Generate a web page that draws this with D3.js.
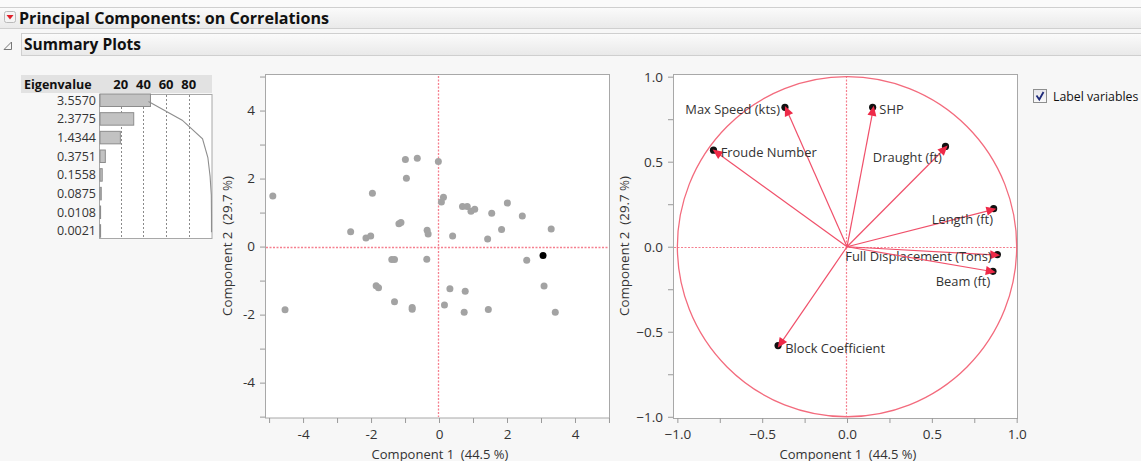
<!DOCTYPE html>
<html><head><meta charset="utf-8">
<script src="https://cdn.jsdelivr.net/npm/d3@7"></script>
<style>
body{margin:0;background:#f7f7f7;}
svg{display:block;font-family:"Open Sans","Noto Sans",sans-serif;}
</style>
</head><body>
<svg id="c" width="1141" height="461"></svg>
<script>
// ---------- DATA ----------
const eigenvalues = [3.5570, 2.3775, 1.4344, 0.3751, 0.1558, 0.0875, 0.0108, 0.0021];
const percentTicks = [20, 40, 60, 80];

const scoreX = [-4.89,-2.60,-2.15,-2.01,-1.96,-1.39,-1.31,-1.18,-1.12,-0.99,-0.96,-0.64,-0.02,0.13,0.07,0.69,0.83,0.94,1.05,1.55,2.01,2.45,1.84,0.40,-0.35,-0.32,1.43,3.30,-0.36,2.58,3.06,-1.85,-1.78,-1.31,-0.79,-0.79,-4.53,0.32,0.77,3.09,0.16,0.74,1.45,3.42];
const scoreY = [1.49,0.44,0.25,0.31,1.57,-0.38,-0.38,0.67,0.71,2.56,2.01,2.60,2.50,1.45,1.31,1.18,1.18,1.04,1.10,0.98,1.28,0.90,0.50,0.31,0.48,0.37,0.22,0.52,-0.37,-0.40,-0.26,-1.15,-1.21,-1.62,-1.79,-1.84,-1.86,-1.24,-1.31,-1.16,-1.72,-1.93,-1.85,-1.93];
const selectedRows = [30];
const scoreTicks = [-4, -2, 0, 2, 4];

const variables = ["Max Speed (kts)","Froude Number","SHP","Draught (ft)","Length (ft)","Full Displacement (Tons)","Beam (ft)","Block Coefficient"];
const loadX = [-0.360, -0.780, 0.155, 0.583, 0.866, 0.888, 0.862, -0.400];
const loadY = [0.814, 0.563, 0.814, 0.585, 0.220, -0.049, -0.147, -0.582];
const loadTicks = [-1.0, -0.5, 0.0, 0.5, 1.0];

const xTitle = "Component 1\u00a0\u00a0(44.5 %)";
const yTitle = "Component 2\u00a0\u00a0(29.7 %)";

// label placement (layout only)
const labelLayout = {
  "Max Speed (kts)": {dx:-6, dy:6, a:"end"},
  "Froude Number": {dx:6, dy:6, a:"start"},
  "SHP": {dx:6, dy:6, a:"start"},
  "Draught (ft)": {dx:-4, dy:15, a:"end"},
  "Length (ft)": {dx:-1, dy:15, a:"end"},
  "Full Displacement (Tons)": {dx:-6, dy:6, a:"end"},
  "Beam (ft)": {dx:-3, dy:14, a:"end"},
  "Block Coefficient": {dx:6, dy:7.5, a:"start"}
};

// ---------- DRAW ----------
const svg = d3.select("#c");
const RED = "#f0506a", RED2 = "#f36b7d", DOT = "#f5808f", TXT = "#333", FRAME = "#a8a8a8";
const defs = svg.append("defs");
const g1 = defs.append("linearGradient").attr("id","hdr").attr("x1",0).attr("x2",0).attr("y1",0).attr("y2",1);
g1.append("stop").attr("offset","0%").attr("stop-color","#fbfbfb");
g1.append("stop").attr("offset","100%").attr("stop-color","#e9e9e9");

// Header 1
svg.append("rect").attr("x",0).attr("y",0).attr("width",1141).attr("height",7).attr("fill","#fafafa");
svg.append("rect").attr("x",-1).attr("y",7.5).attr("width",1143).attr("height",21).attr("fill","url(#hdr)").attr("stroke","#cfcfcf");
svg.append("rect").attr("x",4.5).attr("y",11.5).attr("width",11).attr("height",11).attr("rx",2)
  .attr("fill","#f4f4f4").attr("stroke","#b9b9b9");
svg.append("path").attr("d","M6.5,15 L13.5,15 L10,19.5 Z").attr("fill","#e0202a");
svg.append("text").attr("x",19).attr("y",23.5).attr("font-size",16).attr("font-weight","bold").attr("fill","#111")
  .attr("textLength",310).attr("lengthAdjust","spacingAndGlyphs")
  .text("Principal Components: on Correlations");

// Header 2
svg.append("rect").attr("x",21.5).attr("y",33.5).attr("width",1121).attr("height",22).attr("fill","url(#hdr)").attr("stroke","#cfcfcf");
svg.append("path").attr("d","M4,49.5 L11.5,49.5 L11.5,42 Z").attr("fill","none").attr("stroke","#777");
svg.append("text").attr("x",24).attr("y",50).attr("font-size",15.5).attr("font-weight","bold").attr("fill","#111")
  .attr("textLength",117).attr("lengthAdjust","spacingAndGlyphs")
  .text("Summary Plots");

// ---------- Eigenvalue panel ----------
const total = d3.sum(eigenvalues);
const pct = eigenvalues.map(v => v / total * 100);
const cum = d3.cumsum(pct);
const bx = d3.scaleLinear().domain([0, 100]).range([98, 211.5]);
const rowY = d3.scalePoint().domain(d3.range(eigenvalues.length)).range([100, 230.7]);

svg.append("rect").attr("x",21).attr("y",75).attr("width",191).attr("height",18).attr("fill","#e2e2e2");
svg.append("text").attr("x",24).attr("y",88.5).attr("font-size",12.5).attr("font-weight","bold").attr("fill","#111").text("Eigenvalue");
svg.selectAll(".pt").data(percentTicks).enter().append("text")
  .attr("x",d=>bx(d)).attr("y",88.5).attr("text-anchor","middle").attr("font-size",13).attr("font-weight","bold").attr("fill","#111")
  .text(d=>d);
svg.append("rect").attr("x",99.5).attr("y",94.5).attr("width",112.5).attr("height",144).attr("fill","#fff").attr("stroke",FRAME);
svg.selectAll(".eg").data(percentTicks).enter().append("line")
  .attr("x1",d=>Math.round(bx(d))+0.5).attr("x2",d=>Math.round(bx(d))+0.5).attr("y1",95).attr("y2",238)
  .attr("stroke","#8a8a8a").attr("stroke-dasharray","2,2");
svg.selectAll(".eb").data(pct).enter().append("rect")
  .attr("x",bx(0)+2).attr("y",(d,i)=>rowY(i)-6).attr("height",12.5)
  .attr("width",d=>Math.max(0.6, bx(d)-bx(0)))
  .attr("fill","#c2c2c2").attr("stroke","#8c8c8c").attr("stroke-width",1);
svg.append("path").datum(cum)
  .attr("d", d3.line().x(d=>bx(d)).y((d,i)=>rowY(i)+1.5))
  .attr("fill","none").attr("stroke","#8e8e8e").attr("stroke-width",1.1);
svg.selectAll(".ev").data(eigenvalues).enter().append("text")
  .attr("x",96).attr("y",(d,i)=>rowY(i)+4.5).attr("text-anchor","end").attr("font-size",12.5).attr("fill",TXT)
  .text(d=>d.toFixed(4));

// ---------- Axis helper ----------
function styleAxis(g){
  g.select(".domain").remove();
  g.selectAll("line").attr("stroke","#9a9a9a");
  g.selectAll("text").attr("fill",TXT).attr("font-size",13.5).attr("font-family","'Open Sans','Noto Sans',sans-serif");
}

// ---------- Score plot ----------
const sx = d3.scaleLinear().domain([-5.12, 5.03]).range([265, 610]);
const sy = d3.scaleLinear().domain([-5.04, 5.06]).range([418, 74.5]);
svg.append("rect").attr("x",265.5).attr("y",74.5).attr("width",344).attr("height",343.5).attr("fill","#fff").attr("stroke",FRAME);
svg.append("g").attr("transform","translate(265,0)")
  .call(d3.axisLeft(sy).tickValues(d3.range(-5,6)).tickSize(5).tickPadding(5).tickFormat(d=>scoreTicks.includes(d)?d:""))
  .call(styleAxis);
svg.append("g").attr("transform","translate(0,418)")
  .call(d3.axisBottom(sx).tickValues(d3.range(-5,6)).tickSize(5).tickPadding(6).tickFormat(d=>scoreTicks.includes(d)?d:""))
  .call(styleAxis);
svg.append("line").attr("x1",sx.range()[0]+1).attr("x2",sx.range()[1]-1).attr("y1",Math.round(sy(0))+0.5).attr("y2",Math.round(sy(0))+0.5)
  .attr("stroke",DOT).attr("stroke-dasharray","2,1.5").attr("stroke-width",1.3);
svg.append("line").attr("y1",76).attr("y2",417).attr("x1",Math.round(sx(0))-0.5).attr("x2",Math.round(sx(0))-0.5)
  .attr("stroke",DOT).attr("stroke-dasharray","2,1.5").attr("stroke-width",1.3);
const pts = scoreX.map((x,i)=>({x, y:scoreY[i], sel:selectedRows.includes(i)}));
svg.selectAll(".sp").data(pts.filter(p=>!p.sel).concat(pts.filter(p=>p.sel))).enter().append("circle")
  .attr("cx",d=>sx(d.x)).attr("cy",d=>sy(d.y)).attr("r",3.5)
  .attr("fill",d=>d.sel?"#000":"#a3a3a3");
svg.append("text").attr("x",440).attr("y",458.5).attr("text-anchor","middle").attr("font-size",13).attr("fill",TXT).text(xTitle);
svg.append("text").attr("transform","translate(232,246) rotate(-90)").attr("text-anchor","middle").attr("font-size",13.3).attr("fill",TXT).text(yTitle);

// ---------- Loading plot ----------
const lx = d3.scaleLinear().domain([-1.024, 1.006]).range([673.3, 1017.7]);
const ly = d3.scaleLinear().domain([-1.009, 1.014]).range([418.3, 74.3]);
svg.append("rect").attr("x",673.5).attr("y",74.5).attr("width",344).attr("height",344).attr("fill","#fff").attr("stroke",FRAME);
svg.append("g").attr("transform","translate(673,0)")
  .call(d3.axisLeft(ly).tickValues(d3.range(-4,5).map(v=>v/4)).tickSize(5).tickPadding(5)
    .tickFormat(d=>loadTicks.includes(d)?d3.format(".1f")(d):""))
  .call(styleAxis);
svg.append("g").attr("transform","translate(0,418)")
  .call(d3.axisBottom(lx).tickValues(d3.range(-4,5).map(v=>v/4)).tickSize(5).tickPadding(6)
    .tickFormat(d=>loadTicks.includes(d)?d3.format(".1f")(d):""))
  .call(styleAxis);
svg.append("line").attr("x1",674).attr("x2",1017).attr("y1",Math.round(ly(0))+0.5).attr("y2",Math.round(ly(0))+0.5)
  .attr("stroke",DOT).attr("stroke-dasharray","2,1.5").attr("stroke-width",1.2);
svg.append("line").attr("y1",76).attr("y2",417).attr("x1",Math.round(lx(0))-0.5).attr("x2",Math.round(lx(0))-0.5)
  .attr("stroke",DOT).attr("stroke-dasharray","2,1.5").attr("stroke-width",1.2);
svg.append("ellipse").attr("cx",lx(0)).attr("cy",ly(0)).attr("rx",lx(1)-lx(0)).attr("ry",ly(0)-ly(1))
  .attr("fill","none").attr("stroke",RED2).attr("stroke-width",1.3);

const vecs = variables.map((n,i)=>({n, x:loadX[i], y:loadY[i]}));
const vg = svg.append("g");
vecs.forEach(v=>{
  const x0 = lx(0), y0 = ly(0), x1 = lx(v.x), y1 = ly(v.y);
  const ang = Math.atan2(y1-y0, x1-x0);
  vg.append("line").attr("x1",x0).attr("y1",y0).attr("x2",x1).attr("y2",y1).attr("stroke",RED).attr("stroke-width",1.2);
  vg.append("circle").attr("cx",x1+0.5*Math.cos(ang)-0.8).attr("cy",y1+0.5*Math.sin(ang)-0.5).attr("r",3.6).attr("fill","#111");
  const L = 10, W = 4.5;
  const tx = x1 + 2.5*Math.cos(ang), ty = y1 + 2.5*Math.sin(ang);
  const bxp = tx - L*Math.cos(ang), byp = ty - L*Math.sin(ang);
  const px = -Math.sin(ang), py = Math.cos(ang);
  vg.append("path").attr("d",`M${tx},${ty} L${bxp+W*px},${byp+W*py} L${bxp-W*px},${byp-W*py} Z`).attr("fill","#ee2a48");
  const lay = labelLayout[v.n];
  vg.append("text").attr("x",x1+lay.dx).attr("y",y1+lay.dy).attr("text-anchor",lay.a).attr("font-size",12.9).attr("fill",TXT).text(v.n);
});
svg.append("text").attr("x",848).attr("y",458.5).attr("text-anchor","middle").attr("font-size",13).attr("fill",TXT).text(xTitle);
svg.append("text").attr("transform","translate(629,246) rotate(-90)").attr("text-anchor","middle").attr("font-size",13.3).attr("fill",TXT).text(yTitle);

// ---------- Checkbox ----------
const g2 = defs.append("linearGradient").attr("id","cb").attr("x1",0).attr("x2",0).attr("y1",0).attr("y2",1);
g2.append("stop").attr("offset","0%").attr("stop-color","#e4e4ea");
g2.append("stop").attr("offset","100%").attr("stop-color","#fafafa");
svg.append("rect").attr("x",1033.5).attr("y",89.5).attr("width",13).attr("height",13).attr("fill","url(#cb)").attr("stroke","#8e8f8f");
svg.append("path").attr("d","M1036.5,95.5 L1039.3,99.5 L1043.5,92").attr("fill","none").attr("stroke","#1e2a7a").attr("stroke-width",1.8);
svg.append("text").attr("x",1053).attr("y",101).attr("font-size",12.3).attr("fill","#111").text("Label variables");
</script>
</body></html>
